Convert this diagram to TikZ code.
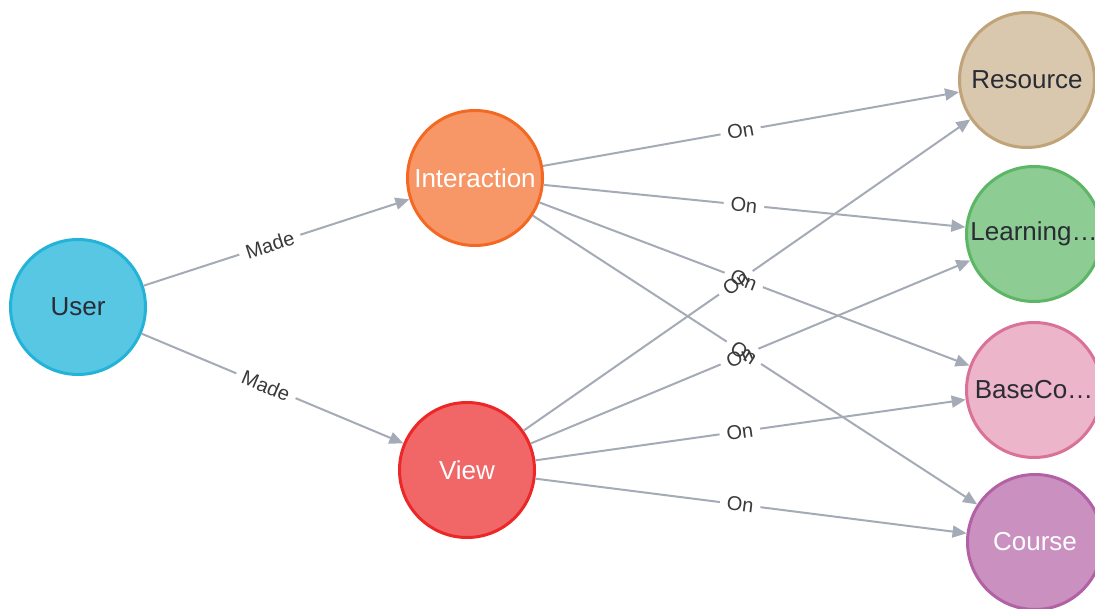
\documentclass[tikz,border=0pt]{standalone}
\usepackage{fontspec}
\setmainfont{Liberation Sans}
\usepackage{xcolor}
\usepackage{tikz}
\usetikzlibrary{arrows.meta}
\definecolor{edgegray}{HTML}{A5ABB6}
\definecolor{captiondark}{HTML}{2A2C34}
\definecolor{labeldark}{HTML}{3A3A3A}
\definecolor{userfill}{HTML}{57C7E3}
\definecolor{userline}{HTML}{23B3D7}
\definecolor{interfill}{HTML}{F79767}
\definecolor{interline}{HTML}{F36924}
\definecolor{viewfill}{HTML}{F16667}
\definecolor{viewline}{HTML}{EB2728}
\definecolor{resfill}{HTML}{D9C8AE}
\definecolor{resline}{HTML}{C0A378}
\definecolor{learnfill}{HTML}{8DCC93}
\definecolor{learnline}{HTML}{5DB665}
\definecolor{basefill}{HTML}{ECB5C9}
\definecolor{baseline}{HTML}{DA7298}
\definecolor{coursefill}{HTML}{C990C0}
\definecolor{courseline}{HTML}{B261A5}
\tikzset{
  graphnode/.style={circle, line width=3pt, minimum size=135pt, inner sep=0pt,
                    font=\fontsize{26}{30}\selectfont, align=center},
  darknode/.style={graphnode, text=captiondark},
  lightnode/.style={graphnode, text=white},
  rel/.style={-{Triangle[length=14pt,width=12pt]}, line width=2pt, edgegray},
  relgap/.style={sloped, pos=0.475, fill=white, inner xsep=7pt, inner ysep=0pt,
                 font=\fontsize{20}{22}\selectfont},
  rellabel/.style={sloped, pos=0.475, inner sep=0pt, text=labeldark,
                   font=\fontsize{20}{22}\selectfont}
}

\begin{document}
\begin{tikzpicture}[x=1pt, y=-1pt]
  \useasboundingbox[fill=white] (0,0) rectangle (1095,609);

  %% Nodes
  \node[darknode, fill=userfill, draw=userline] (User) at (78,307) {User};
  \node[lightnode, fill=interfill, draw=interline] (Interaction) at (475,178) {Interaction};
  \node[lightnode, fill=viewfill, draw=viewline] (View) at (467,470) {View};
  \node[darknode, fill=resfill, draw=resline] (Resource) at (1027,80) {Resource};
  \node[darknode, fill=learnfill, draw=learnline] (Learning) at (1034,234) {Learning…};
  \node[darknode, fill=basefill, draw=baseline] (BaseCo) at (1034,390) {BaseCo…};
  \node[lightnode, fill=coursefill, draw=courseline] (Course) at (1035,542) {Course};

  %% Relationships: lines with a gap for the label
  \foreach \s/\t/\lbl in {
      User/Interaction/Made, User/View/Made,
      Interaction/Resource/On, Interaction/Learning/On,
      Interaction/BaseCo/On, Interaction/Course/On,
      View/Resource/On, View/Learning/On,
      View/BaseCo/On, View/Course/On}{
    \draw[rel] (\s) -- node[relgap] {\phantom{\lbl}} (\t);
  }

  % Labels on top
  \foreach \s/\t/\lbl in {
      User/Interaction/Made, User/View/Made,
      Interaction/Resource/On, Interaction/Learning/On,
      Interaction/BaseCo/On, Interaction/Course/On,
      View/Resource/On, View/Learning/On,
      View/BaseCo/On, View/Course/On}{
    \path (\s) -- node[rellabel] {\lbl} (\t);
  }
\end{tikzpicture}
\end{document}
